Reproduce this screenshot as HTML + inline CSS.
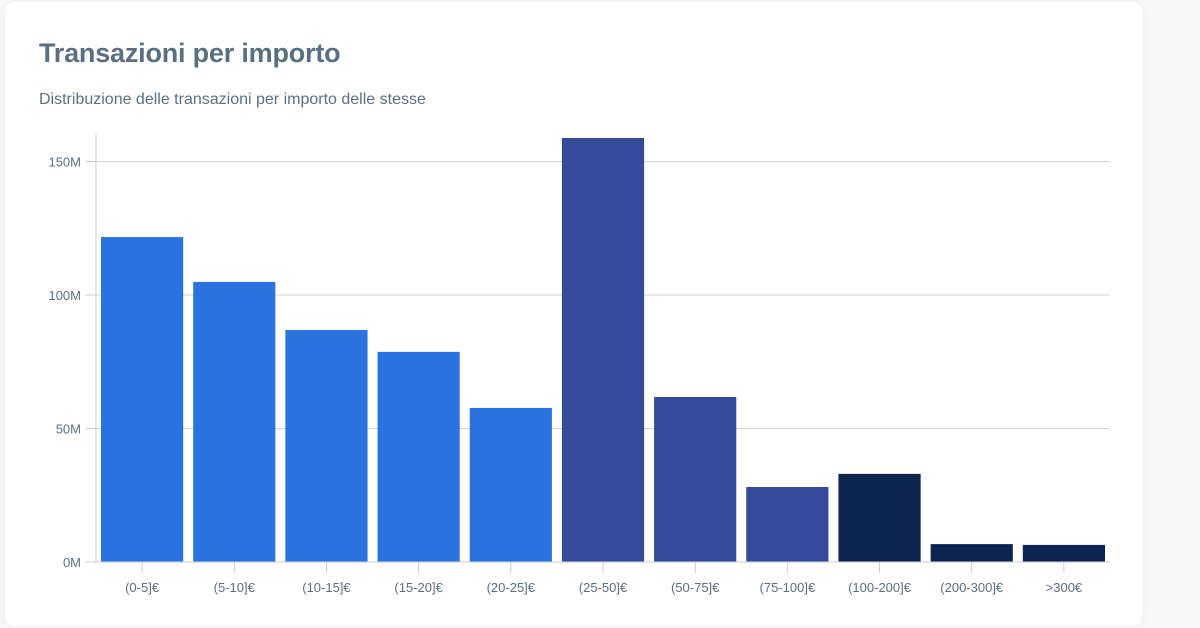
<!DOCTYPE html>
<html><head><meta charset="utf-8"><style>
html,body{margin:0;padding:0;width:1200px;height:628px;background:#f7f7f8;overflow:hidden;font-family:"Liberation Sans",sans-serif;}
#card{position:absolute;left:5px;top:2px;width:1137px;height:624px;background:#fff;border-radius:10px;box-shadow:0 0 12px rgba(0,0,0,0.04);}
#title{position:absolute;left:34px;top:36px;font-size:27px;font-weight:bold;color:#5b6f82;margin:0;letter-spacing:-0.2px}
#sub{position:absolute;left:34px;top:89px;font-size:16px;color:#5b6f82;margin:0}
svg{position:absolute;left:0;top:0}
</style></head><body>
<div id="card">
<h1 id="title">Transazioni per importo</h1>
<p id="sub">Distribuzione delle transazioni per importo delle stesse</p>
</div>
<svg id="chart" width="1200" height="628"></svg>
<script>
const categories=["(0-5]€","(5-10]€","(10-15]€","(15-20]€","(20-25]€","(25-50]€","(50-75]€","(75-100]€","(100-200]€","(200-300]€",">300€"];
const values=[121.7,104.9,86.9,78.7,57.7,158.8,61.8,28.1,33.0,6.7,6.4];
const colors=["#2b74df","#2b74df","#2b74df","#2b74df","#2b74df","#334b99","#334b99","#334b99","#0c2550","#0c2550","#0c2550"];
const yTicks=[0,50,100,150];
const yTickLabels=["0M","50M","100M","150M"];
const NS="http://www.w3.org/2000/svg";
const svg=document.getElementById('chart');
const x0=96,x1=1110,yBase=562,pxPer=133.5/50,band=(x1-x0)/categories.length,pad=5;
const y=v=>yBase-v*pxPer;
const xb=i=>x0+i*band;
function mk(t,a){const e=document.createElementNS(NS,t);for(const k in a)e.setAttribute(k,a[k]);svg.appendChild(e);return e;}
yTicks.forEach((t,i)=>{
 if(t>0){const g=mk('line',{x1:x0,x2:x1,y1:y(t),y2:y(t),stroke:'#d0d3d8','stroke-width':1});
 
 }
 const tk=mk('line',{x1:86,x2:x0,y1:y(t),y2:y(t),stroke:'#c8ccd2'});
 
 
 const tx=mk('text',{x:81,y:y(t)+5,'text-anchor':'end','font-size':13,fill:'#5b6f82','font-family':'Liberation Sans, sans-serif'});
 tx.textContent=yTickLabels[i];
 
 
});
const ya=mk('line',{x1:x0,x2:x0,y1:134,y2:yBase,stroke:'#c8ccd2'});


values.forEach((v,i)=>{
 const r=mk('rect',{x:xb(i)+pad,y:y(v),width:band-2*pad,height:yBase-y(v),fill:colors[i]});
 
 
 const c=xb(i)+band/2;
 const tk=mk('line',{x1:c,x2:c,y1:yBase,y2:yBase+11,stroke:'#c8ccd2'});
 
 
 const tx=mk('text',{x:c,y:yBase+30,'text-anchor':'middle','font-size':13,fill:'#5b6f82','font-family':'Liberation Sans, sans-serif'});
 tx.textContent=categories[i];
 
 
});
const xa=mk('line',{x1:x0,x2:x1,y1:yBase,y2:yBase,stroke:'#c8ccd2'});


</script>
</body></html>
